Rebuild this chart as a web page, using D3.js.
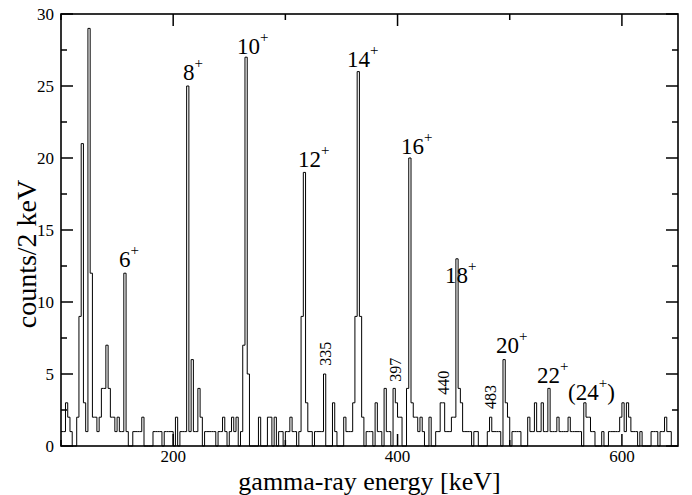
<!DOCTYPE html>
<html>
<head>
<meta charset="utf-8">
<script src="https://cdn.jsdelivr.net/npm/d3@7"></script>
<style>
  body { margin: 0; background: #fff; }
  svg { display: block; font-family: "Liberation Serif", "DejaVu Serif", serif; }
</style>
</head>
<body>
<div id="chart"></div>
<script>
// gamma-ray spectrum, 2 keV bins starting at 100 keV
const binStart = 100;
const binWidth = 2;
const counts = [
  1,1,3,2,1,0,0,2,9,21, 3,1,29,12,2,2,1,2,4,4,     // 100-138
  7,4,2,2,1,2,1,1,12,1, 0,0,1,1,1,1,2,0,0,0,       // 140-178
  0,1,1,1,1,0,1,1,1,1, 0,2,0,1,1,1,25,1,6,1,       // 180-218
  1,4,2,0,1,1,1,1,1,0, 1,1,2,1,0,1,2,1,2,0,        // 220-258
  1,7,27,5,0,0,0,0,2,0, 0,0,2,2,0,2,0,1,1,0,       // 260-298
  1,1,2,1,1,0,1,9,19,3, 1,1,0,1,1,1,1,5,0,0,       // 300-338
  0,3,1,0,0,0,2,1,1,1, 3,9,26,9,2,0,1,1,1,0,       // 340-378
  3,1,1,0,4,1,1,0,4,3, 2,2,0,0,4,20,3,2,2,1,       // 380-418
  2,1,0,0,2,0,0,1,1,3, 3,1,1,1,2,2,13,4,3,1,       // 420-458
  1,1,1,0,1,1,0,0,0,0, 1,2,1,1,1,1,0,6,3,2,        // 460-498
  0,1,1,1,1,0,0,0,2,1, 1,3,1,1,3,1,1,4,1,1,        // 500-538
  1,2,1,1,1,1,2,1,1,1, 1,1,0,3,2,2,1,1,0,0,        // 540-578
  0,1,0,0,1,1,1,1,1,2, 3,1,3,2,1,1,1,0,1,0,        // 580-618
  0,0,0,1,1,1,0,1,1,2, 1,1,0,0,0                   // 620-648
];

const xDomain = [100, 650];
const yDomain = [0, 30];
const xTicks = [200, 400, 600];
const xMinorTicks = [100, 300, 500];
const yTicks = [0, 5, 10, 15, 20, 25, 30];
const yMinorTicks = [2.5, 7.5, 12.5, 17.5, 22.5, 27.5];

// peak labels: spin, left energy of text, baseline in counts
const peakSpin = ["6", "8", "10", "12", "14", "16", "18", "20", "22", "24"];
const peakLabelE = [151.7, 208.8, 256.9, 311.3, 355, 403.1, 442.3, 487.8, 524.3, 552];
const peakLabelC = [12.4, 25.4, 27.2, 19.4, 26.3, 20.3, 11.3, 6.46, 4.4, 3.2];
const peakTentative = [false, false, false, false, false, false, false, false, false, true];

// contaminant lines (rotated labels)
const lineText = ["335", "397", "440", "483"];
const lineLabelE = [335.3, 397.7, 440.5, 482.6];
const lineLabelC = [6.4, 5.3, 4.4, 3.4];

const W = 692, H = 495;
const margin = { top: 14, right: 14, bottom: 49, left: 61 };

const svg = d3.select("#chart").append("svg")
  .attr("width", W)
  .attr("height", H);

const x = d3.scaleLinear().domain(xDomain).range([margin.left, W - margin.right]);
const y = d3.scaleLinear().domain(yDomain).range([H - margin.bottom, margin.top]);

// histogram as a step line
const pts = counts.map((c, i) => [binStart + i * binWidth, c]);
pts.push([binStart + counts.length * binWidth, counts[counts.length - 1]]);

const line = d3.line()
  .x(d => x(d[0]))
  .y(d => y(d[1]))
  .curve(d3.curveStepAfter);

svg.append("path")
  .datum(pts)
  .attr("d", line)
  .attr("fill", "none")
  .attr("stroke", "#000")
  .attr("stroke-width", 1);

// ticks pointing inward on all four sides
const x0 = margin.left, x1 = W - margin.right;
const y0 = H - margin.bottom, y1 = margin.top;
const ticks = svg.append("g").attr("stroke", "#000").attr("stroke-width", 1.5);

yTicks.concat(yMinorTicks).forEach(t => {
  const len = yTicks.includes(t) ? 12 : 6;
  ticks.append("line").attr("x1", x0).attr("x2", x0 + len).attr("y1", y(t)).attr("y2", y(t));
  ticks.append("line").attr("x1", x1).attr("x2", x1 - len).attr("y1", y(t)).attr("y2", y(t));
});
xTicks.concat(xMinorTicks).forEach(t => {
  const len = xTicks.includes(t) ? 12 : 6;
  ticks.append("line").attr("x1", x(t)).attr("x2", x(t)).attr("y1", y0).attr("y2", y0 - len);
  ticks.append("line").attr("x1", x(t)).attr("x2", x(t)).attr("y1", y1).attr("y2", y1 + len);
});

// frame
svg.append("rect")
  .attr("x", x0).attr("y", y1)
  .attr("width", x1 - x0).attr("height", y0 - y1)
  .attr("fill", "none")
  .attr("stroke", "#000")
  .attr("stroke-width", 1.6);

// tick labels
svg.append("g").selectAll("text")
  .data(xTicks)
  .join("text")
  .attr("x", d => x(d))
  .attr("y", 462)
  .attr("text-anchor", "middle")
  .style("font-size", "17px")
  .text(d => d);

svg.append("g").selectAll("text")
  .data(yTicks)
  .join("text")
  .attr("x", 54)
  .attr("y", d => y(d) + 6)
  .attr("text-anchor", "end")
  .style("font-size", "17px")
  .text(d => d);

// axis titles
svg.append("text")
  .attr("x", (x0 + x1) / 2)
  .attr("y", 490)
  .attr("text-anchor", "middle")
  .style("font-size", "26px")
  .text("gamma-ray energy [keV]");

svg.append("text")
  .attr("transform", `translate(36,254) rotate(-90)`)
  .attr("text-anchor", "middle")
  .style("font-size", "28px")
  .text("counts/2 keV");

// peak labels with superscript +
peakSpin.forEach((s, i) => {
  const t = svg.append("text")
    .attr("x", x(peakLabelE[i]))
    .attr("y", y(peakLabelC[i]))
    .style("font-size", "23px");
  if (peakTentative[i]) t.append("tspan").text("(");
  t.append("tspan").text(s);
  t.append("tspan").attr("dy", -12).style("font-size", "15px").text("+");
  if (peakTentative[i]) t.append("tspan").attr("dy", 12).style("font-size", "23px").text(")");
});

// rotated energy labels
lineText.forEach((s, i) => {
  svg.append("text")
    .attr("transform", `translate(${x(lineLabelE[i]) + 6},${y(lineLabelC[i])}) rotate(-90)`)
    .attr("text-anchor", "middle")
    .style("font-size", "16px")
    .text(s);
});
</script>
</body>
</html>
